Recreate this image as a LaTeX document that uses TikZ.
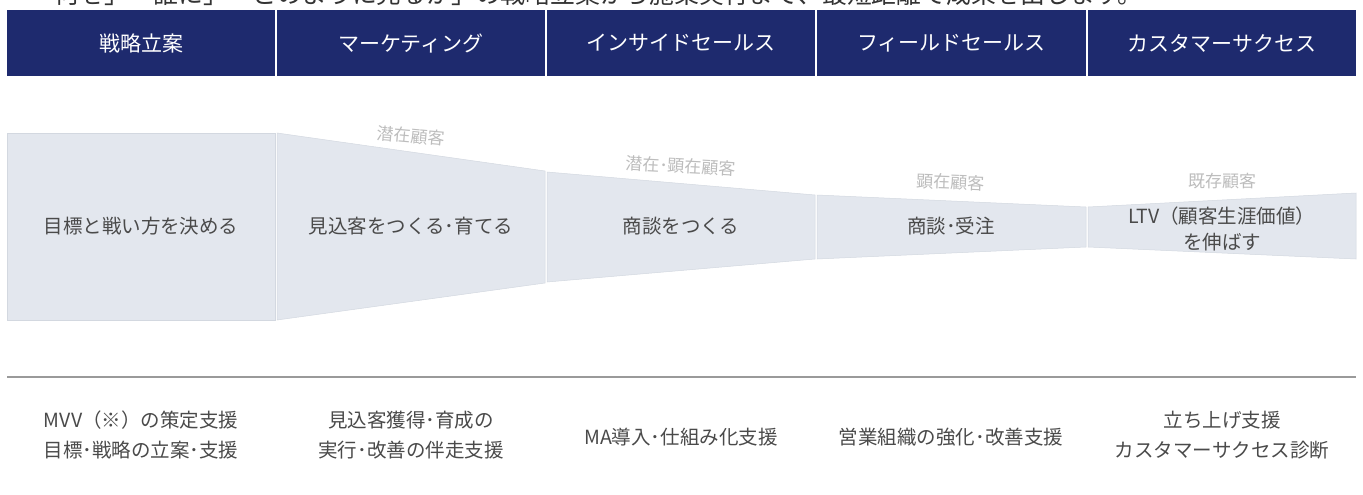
\documentclass[tikz,border=0pt]{standalone}
\usepackage{fontspec}
\newfontfamily\jp{Noto Sans CJK JP}
\definecolor{navy}{HTML}{1E2A6E}
\definecolor{funnel}{HTML}{E3E7EE}
\definecolor{funneledge}{HTML}{D3D8E0}
\definecolor{tagcol}{HTML}{BDBDBD}
\definecolor{bodytext}{HTML}{4A4A4A}
\definecolor{rulecol}{HTML}{9A9A9A}
\begin{document}
\begin{tikzpicture}[x=1pt,y=-1pt,
  hdr/.style={fill=navy,text=white,minimum width=268pt,minimum height=66pt,inner sep=0pt,font=\jp\fontsize{21}{24}\selectfont},
  seg/.style={fill=funnel,draw=funneledge,line width=0.5pt},
  segtext/.style={text=bodytext,align=center,font=\jp\fontsize{19.5}{26}\selectfont},
  tag/.style={text=tagcol,font=\jp\fontsize{17}{20}\selectfont},
  bottomtext/.style={text=bodytext,align=center,font=\jp\fontsize{19.5}{30}\selectfont}]
\useasboundingbox (0,0) rectangle (1363,495);
\clip (0,0) rectangle (1363,495);
\fill[white] (0,0) rectangle (1363,495);
% cut-off heading line
\node[anchor=base,text=black!80,inner sep=0pt,font=\jp\fontsize{24.8}{28}\selectfont] (title) at (586,4) {「何を」「誰に」「どのように売るか」の戦略立案から施策実行まで、最短距離で成果を出します。};
% header
\node[hdr] (h1) at (141,43) {戦略立案};
\node[hdr] (h2) at (411,43) {マーケティング};
\node[hdr] (h3) at (681,43) {インサイドセールス};
\node[hdr,minimum width=269pt] (h4) at (951.5,43) {フィールドセールス};
\node[hdr] (h5) at (1222,43) {カスタマーサクセス};
% funnel
\draw[seg] (7,133) -- (275,133) -- (275,320) -- (7,320) -- cycle;
\draw[seg] (277,133) -- (545,171) -- (545,283) -- (277,320) -- cycle;
\draw[seg] (547,172) -- (815,195) -- (815,259) -- (547,282) -- cycle;
\draw[seg] (817,195) -- (1086,207) -- (1086,247) -- (817,259) -- cycle;
\draw[seg] (1088,207) -- (1356,193) -- (1356,259) -- (1088,247) -- cycle;
\node[segtext] (f1) at (141,226) {目標と戦い方を決める};
\node[segtext] (f2) at (411,226) {見込客をつくる･育てる};
\node[segtext] (f3) at (681,226) {商談をつくる};
\node[segtext] (f4) at (951,226) {商談･受注};
\node[segtext] (f5) at (1222,229) {LTV（顧客生涯価値）\\を伸ばす};
% audience tags
\node[tag,rotate=-5] (t2) at (411,136) {潜在顧客};
\node[tag,rotate=-3] (t3) at (681,166) {潜在･顕在顧客};
\node[tag,rotate=-2] (t4) at (951,182) {顕在顧客};
\node[tag] (t5) at (1222,181) {既存顧客};
% rule
\coordinate (ruleL) at (7,377);
\coordinate (ruleR) at (1356,377);
\draw[rulecol,line width=1.5pt] (ruleL) -- (ruleR);
% bottom services
\node[bottomtext] (b1) at (141,435) {MVV（※）の策定支援\\目標･戦略の立案･支援};
\node[bottomtext] (b2) at (411,435) {見込客獲得･育成の\\実行･改善の伴走支援};
\node[bottomtext] (b3) at (681,437) {MA導入･仕組み化支援};
\node[bottomtext] (b4) at (951,437) {営業組織の強化･改善支援};
\node[bottomtext] (b5) at (1222,435) {立ち上げ支援\\カスタマーサクセス診断};
\end{tikzpicture}
\end{document}
